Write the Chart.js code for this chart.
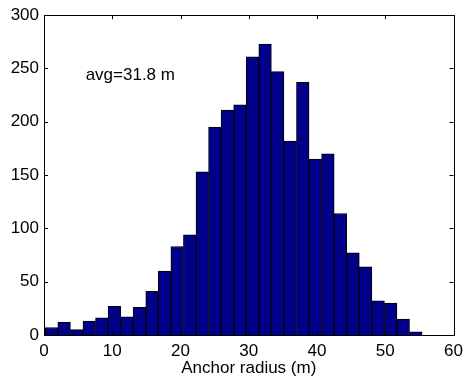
<!DOCTYPE html>
<html>
<head>
<meta charset="utf-8">
<script src="https://cdn.jsdelivr.net/npm/chart.js@4"></script>
<style>
  html, body { margin: 0; padding: 0; background: #fff; }
  #wrap { width: 469px; height: 383px; }
</style>
</head>
<body>
<div id="wrap"><canvas id="histChart"></canvas></div>
<script>
// bin centres (m) of the 30-bin histogram
const binCenters = [1.11, 2.95, 4.79, 6.63, 8.47, 10.31, 12.15, 13.99, 15.83, 17.67,
  19.51, 21.35, 23.19, 25.03, 26.87, 28.71, 30.55, 32.39, 34.23, 36.07,
  37.91, 39.75, 41.59, 43.43, 45.27, 47.11, 48.95, 50.79, 52.63, 54.47];
const counts = [7, 12, 5, 13, 16, 27, 17, 26, 41, 60,
  83, 94, 153, 195, 211, 216, 261, 273, 247, 182,
  237, 165, 170, 114, 77, 64, 32, 30, 15, 3];
const xTicks = [0, 10, 20, 30, 40, 50, 60];
const yTicks = [0, 50, 100, 150, 200, 250, 300];
const note = { text: 'avg=31.8 m', x: 6.1, y: 244 };

const FONT = 'Liberation Sans, Arial, Helvetica, sans-serif';
const FSIZE = 17;

// matlab-style box with inward ticks on all four sides
const boxPlugin = {
  id: 'box',
  afterDatasetsDraw(chart) {
    const ctx = chart.ctx;
    const a = chart.chartArea;
    const xs = chart.scales.x, ys = chart.scales.y;
    ctx.save();
    ctx.strokeStyle = '#000';
    ctx.lineWidth = 1;
    ctx.beginPath();
    xTicks.forEach(v => {
      const px = Math.round(xs.getPixelForValue(v)) + 0.5;
      ctx.moveTo(px, a.bottom); ctx.lineTo(px, a.bottom - 4);
      ctx.moveTo(px, a.top); ctx.lineTo(px, a.top + 4);
    });
    yTicks.forEach(v => {
      const py = Math.round(ys.getPixelForValue(v)) + 0.5;
      ctx.moveTo(a.left, py); ctx.lineTo(a.left + 4, py);
      ctx.moveTo(a.right, py); ctx.lineTo(a.right - 4, py);
    });
    ctx.stroke();
    ctx.strokeRect(Math.round(a.left) + 0.5, Math.round(a.top) + 0.5,
      Math.round(a.right - a.left), Math.round(a.bottom - a.top));

    ctx.fillStyle = '#000';
    ctx.font = FSIZE + 'px ' + FONT;
    ctx.textAlign = 'left';
    ctx.textBaseline = 'middle';
    ctx.fillText(note.text, xs.getPixelForValue(note.x), ys.getPixelForValue(note.y));
    ctx.restore();
  }
};

const ctx = document.getElementById('histChart').getContext('2d');
new Chart(ctx, {
  type: 'bar',
  data: {
    datasets: [{
      data: binCenters.map((c, i) => ({ x: c, y: counts[i] })),
      backgroundColor: '#000088',
      borderColor: '#000',
      borderWidth: 1,
      barPercentage: 1,
      categoryPercentage: 1
    }]
  },
  options: {
    responsive: true,
    maintainAspectRatio: false,
    animation: false,
    layout: { padding: { top: 9, right: 11, left: 0, bottom: 0 } },
    plugins: {
      legend: { display: false },
      tooltip: { enabled: false }
    },
    scales: {
      x: {
        type: 'linear',
        offset: false,
        min: 0,
        max: 60,
        grid: { display: false, drawTicks: false, offset: false },
        border: { display: false },
        ticks: {
          stepSize: 10,
          padding: 6,
          color: '#000',
          font: { family: FONT, size: FSIZE }
        },
        title: {
          display: true,
          text: 'Anchor radius (m)',
          color: '#000',
          font: { family: FONT, size: FSIZE },
          padding: { top: 0, bottom: 4 }
        },
        afterFit(scale) { scale.height = 48; }
      },
      y: {
        min: 0,
        max: 300,
        grid: { display: false, drawTicks: false },
        border: { display: false },
        ticks: {
          stepSize: 50,
          padding: 5,
          color: '#000',
          font: { family: FONT, size: FSIZE }
        },
        afterFit(scale) { scale.width = 44; }
      }
    }
  },
  plugins: [boxPlugin]
});
</script>
</body>
</html>
